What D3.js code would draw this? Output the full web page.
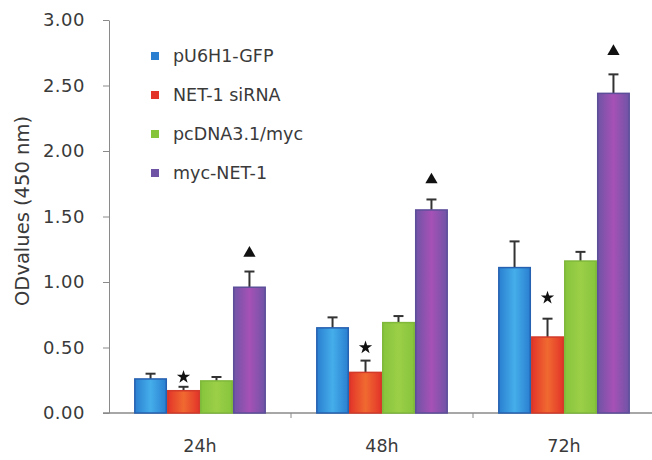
<!DOCTYPE html>
<meta charset="utf-8">

<!-- Load d3.js -->
<script src="https://d3js.org/d3.v7.min.js"></script>

<style>
    body {
        margin: 0;
        background: #ffffff;
    }

    #my_dataviz text {
        font-family: "DejaVu Sans", Verdana, sans-serif;
        fill: #3a3a3a;
    }
</style>

<!-- Create a div where the graph will take place -->
<div id="my_dataviz"></div>

<script>

    // data
    var groups = ["24h", "48h", "72h"]
    var series = ["pU6H1-GFP", "NET-1 siRNA", "pcDNA3.1/myc", "myc-NET-1"]

    // one array per series, one value per time point
    var gfpValues = [0.26, 0.65, 1.11]
    var sirnaValues = [0.17, 0.31, 0.58]
    var pcdnaValues = [0.245, 0.69, 1.16]
    var mycNetValues = [0.96, 1.55, 2.44]

    // upper error bars
    var gfpErr = [0.04, 0.08, 0.20]
    var sirnaErr = [0.03, 0.09, 0.14]
    var pcdnaErr = [0.03, 0.05, 0.07]
    var mycNetErr = [0.12, 0.08, 0.145]

    // significance markers (value where the symbol sits)
    var starLevels = [0.275, 0.50, 0.88]
    var triangleLevels = [1.22, 1.78, 2.76]

    var yTicks = [0, 0.5, 1, 1.5, 2, 2.5, 3]

    var allValues = [gfpValues, sirnaValues, pcdnaValues, mycNetValues]
    var allErr = [gfpErr, sirnaErr, pcdnaErr, mycNetErr]

    // flat table: one row per bar
    var data = []
    groups.forEach(function (g, gi) {
        series.forEach(function (s, si) {
            data.push({ group: g, key: s, value: allValues[si][gi], err: allErr[si][gi] })
        })
    })

    // set the dimensions and margins of the graph
    var width = 652, height = 460
    var margin = { top: 20, left: 109, bottom: 47 }

    var svg = d3.select("#my_dataviz")
        .append("svg")
        .attr("width", width)
        .attr("height", height)

    // scales
    var x = d3.scaleBand()
        .domain(groups)
        .range([margin.left, margin.left + 3 * 182])

    var xSub = d3.scaleBand()
        .domain(series)
        .range([0, x.bandwidth()])
        .paddingOuter(0.76)

    var y = d3.scaleLinear()
        .domain([0, 3])
        .range([height - margin.bottom, margin.top])

    // colours: edge, centre, border
    var colors = [
        ["#2a7fd0", "#45aeea", "#2660b0"],
        ["#e3342a", "#f06a30", "#d23a2a"],
        ["#86c43c", "#9ccf48", "#7fb83a"],
        ["#6f54a6", "#a651b6", "#5d4e9a"]
    ]

    // horizontal gradients to get the striped look of the bars
    var defs = svg.append("defs")
    series.forEach(function (s, i) {
        var grad = defs.append("linearGradient")
            .attr("id", "grad" + i)
            .attr("x1", "0%").attr("x2", "100%")
            .attr("y1", "0%").attr("y2", "0%")
        grad.append("stop").attr("offset", "0%").attr("stop-color", colors[i][0])
        grad.append("stop").attr("offset", "50%").attr("stop-color", colors[i][1])
        grad.append("stop").attr("offset", "100%").attr("stop-color", colors[i][0])
    })

    // Y axis
    var yAxis = svg.append("g")
        .attr("transform", "translate(" + margin.left + ",0)")
        .call(d3.axisLeft(y)
            .tickValues(yTicks)
            .tickFormat(d3.format(".2f"))
            .tickSize(6)
            .tickPadding(18)
            .tickSizeOuter(0))
    yAxis.selectAll("line").attr("stroke", "#8a8a8a")
    yAxis.select(".domain").attr("stroke", "#8a8a8a")
    yAxis.selectAll("text").style("font-size", "18px").style("letter-spacing", "0.5px")

    // X axis: labels centred on the groups
    var xAxis = svg.append("g")
        .attr("transform", "translate(0," + y(0) + ")")
        .call(d3.axisBottom(x).tickSize(0).tickPadding(27))
    xAxis.select(".domain").remove()
    xAxis.selectAll("text").style("font-size", "17.5px")

    // baseline and the small ticks between the groups
    svg.append("line")
        .attr("x1", margin.left - 6)
        .attr("x2", width)
        .attr("y1", y(0))
        .attr("y2", y(0))
        .attr("stroke", "#8a8a8a")
        .attr("stroke-width", 1.5)

    svg.selectAll(".sep")
        .data(groups.slice(1))
        .enter().append("line")
        .attr("class", "sep")
        .attr("x1", function (d) { return x(d) })
        .attr("x2", function (d) { return x(d) })
        .attr("y1", y(0))
        .attr("y2", y(0) + 5)
        .attr("stroke", "#8a8a8a")

    // Y axis title
    svg.append("text")
        .attr("transform", "translate(22," + 211 + ") rotate(-90)")
        .attr("text-anchor", "middle")
        .attr("dominant-baseline", "central")
        .style("font-size", "19.5px")
        .text("ODvalues (450 nm)")

    // error bars (upper only)
    var errG = svg.append("g")
        .attr("stroke", "#333")
        .attr("stroke-width", 2)
    errG.selectAll(".stem")
        .data(data)
        .enter().append("line")
        .attr("x1", function (d) { return x(d.group) + xSub(d.key) + xSub.bandwidth() / 2 })
        .attr("x2", function (d) { return x(d.group) + xSub(d.key) + xSub.bandwidth() / 2 })
        .attr("y1", function (d) { return y(d.value) })
        .attr("y2", function (d) { return y(d.value + d.err) })
    errG.selectAll(".cap")
        .data(data)
        .enter().append("line")
        .attr("x1", function (d) { return x(d.group) + xSub(d.key) + xSub.bandwidth() / 2 - 5 })
        .attr("x2", function (d) { return x(d.group) + xSub(d.key) + xSub.bandwidth() / 2 + 5 })
        .attr("y1", function (d) { return y(d.value + d.err) })
        .attr("y2", function (d) { return y(d.value + d.err) })

    // Show the bars
    svg.append("g")
        .selectAll("rect")
        .data(data)
        .enter().append("rect")
        .attr("x", function (d) { return x(d.group) + xSub(d.key) + 0.75 })
        .attr("y", function (d) { return y(d.value) })
        .attr("width", xSub.bandwidth() - 1.5)
        .attr("height", function (d) { return y(0) - y(d.value) })
        .attr("fill", function (d) { return "url(#grad" + series.indexOf(d.key) + ")" })
        .attr("stroke", function (d) { return colors[series.indexOf(d.key)][2] })
        .attr("stroke-width", 1.5)

    // stars above the siRNA bars
    svg.selectAll(".star")
        .data(starLevels)
        .enter().append("path")
        .attr("class", "star")
        .attr("d", d3.symbol().type(d3.symbolStar).size(55))
        .attr("transform", function (d, i) {
            return "translate(" + (x(groups[i]) + xSub(series[1]) + xSub.bandwidth() / 2) + "," + y(d) + ")"
        })
        .attr("fill", "#111")

    // triangles above the myc-NET-1 bars
    svg.selectAll(".tri")
        .data(triangleLevels)
        .enter().append("path")
        .attr("class", "tri")
        .attr("d", d3.symbol().type(d3.symbolTriangle).size(65))
        .attr("transform", function (d, i) {
            return "translate(" + (x(groups[i]) + xSub(series[3]) + xSub.bandwidth() / 2) + "," + y(d) + ")"
        })
        .attr("fill", "#111")

    // legend
    var legend = svg.append("g")
        .selectAll("g")
        .data(series)
        .enter().append("g")
        .attr("transform", function (d, i) { return "translate(151," + (56 + i * 39) + ")" })
    legend.append("rect")
        .attr("x", 0)
        .attr("y", -4)
        .attr("width", 8)
        .attr("height", 8)
        .attr("fill", function (d, i) { return colors[i][0] })
    legend.append("text")
        .attr("x", 22)
        .attr("y", 0)
        .attr("dominant-baseline", "central")
        .style("font-size", "17.5px")
        .text(function (d) { return d })

</script>
